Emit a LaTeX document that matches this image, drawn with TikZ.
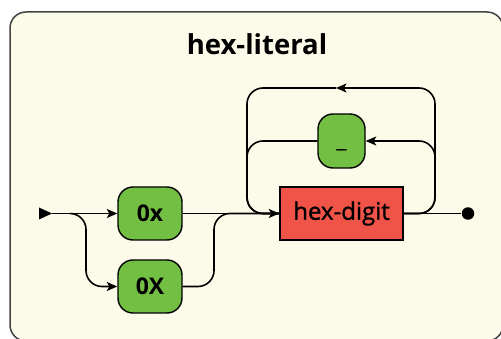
\documentclass[tikz,border=0pt]{standalone}
\usepackage{fontspec}
\setmainfont{Open Sans}
\newfontfamily\semibold[FakeBold=1.2]{Open Sans}
\usetikzlibrary{arrows.meta}
\definecolor{paper}{HTML}{FCFBE9}
\definecolor{termgreen}{HTML}{72BF44}
\definecolor{rulered}{HTML}{F05348}
\definecolor{framegray}{HTML}{444444}
\begin{document}
\begin{tikzpicture}[x=1pt,y=-1pt, line width=1.6pt,
  arr/.style={-{Stealth[length=10.5pt,width=9pt,inset=2.5pt]}},
  rail/.style={rounded corners=16pt},
  term/.style={draw, fill=termgreen, rounded corners=15pt, inner sep=0pt,
    minimum height=53pt, line width=1.4pt,
    font=\fontsize{23}{27}\selectfont\bfseries},
  rulebox/.style={draw, fill=rulered, inner sep=0pt, minimum width=123pt,
    minimum height=53pt, line width=1.4pt,
    font=\fontsize{24}{28}\selectfont\semibold},
  enddot/.style={circle, fill, inner sep=0pt, minimum size=12.5pt}]
\useasboundingbox (0,0) rectangle (501,339);

% frame and title
\draw[framegray, fill=paper, line width=1.5pt, rounded corners=16pt]
  (10,12) rectangle (503,341);
\node[font=\fontsize{27.5}{32}\selectfont\bfseries, anchor=base] (title)
  at (257,54.5) {hex-literal};

% boxes
\node[term, minimum width=64pt] (lo) at (150,213.5) {0x};
\node[term, minimum width=64pt] (up) at (150,286.5) {0X};
\node[term, minimum width=47pt, minimum height=54pt,
  font=\fontsize{23}{27}\selectfont] (us) at (341.5,141) {\vphantom{0}\_};
\node[rulebox] (hd) at (341.5,213.5) {hex-digit};
\node[enddot] (end) at (468,213.5) {};

% start marker
\fill (39,207.5) -- (52,213.5) -- (39,219.5) -- cycle;
\coordinate (st) at (52,213.5);

% rail junctions
\coordinate (split) at (70,213.5);
\coordinate (dn) at (86,286.5);
\coordinate (rise) at (214,213.5);
\coordinate (loopL) at (247,213.5);
\coordinate (loopRmid) at (435,141);
\coordinate (loopRtop) at (435,88);
\coordinate (topArrow) at (336,88);

% choice: 0x | 0X
\draw[arr] (st) -- (lo.west);
\draw[arr, rail] (split) -| (dn) -- (up.west);
\draw[arr] (lo.east) -- (hd.west);
\draw[rail] (up.east) -| (rise) -- (hd.west);

% repetition of hex-digit, optionally separated by _
\draw[rail, arr] (hd.east) -| (loopRmid) -- (us.east);
\draw[rail] (us.west) -| (loopL) -- (hd.west);
\draw[rail, arr] (hd.east) -| (loopRtop) -- (topArrow);
\draw[rail] (topArrow) -| (loopL) -- (hd.west);

% exit
\draw (hd.east) -- (end);
\end{tikzpicture}
\end{document}
